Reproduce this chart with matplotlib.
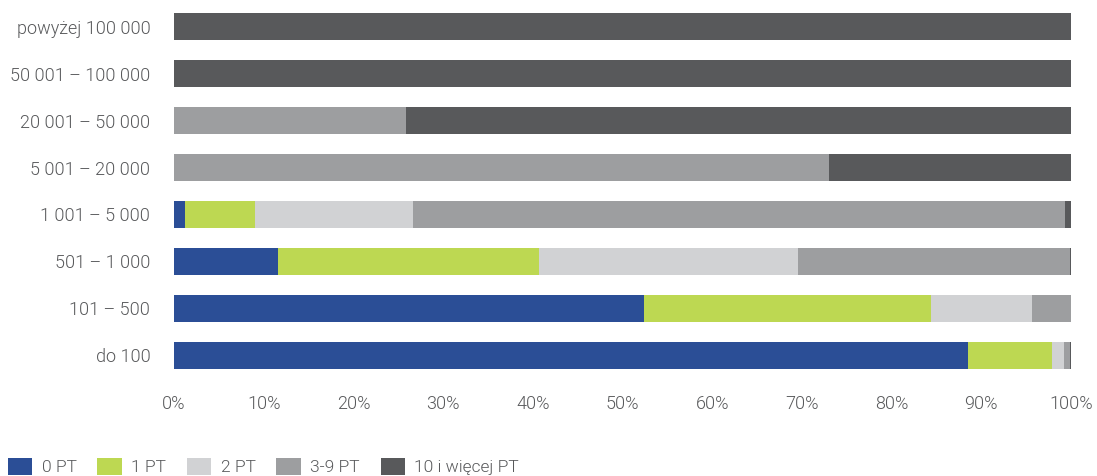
import matplotlib
matplotlib.use("Agg")
import matplotlib.pyplot as plt
from matplotlib.patches import Patch
import numpy as np

# ── Data ──────────────────────────────────────────────────────────────────────
categories = ["do 100", "101 – 500", "501 – 1 000", "1 001 – 5 000",
              "5 001 – 20 000", "20 001 – 50 000", "50 001 – 100 000",
              "powyżej 100 000"]
series_names = ["0 PT", "1 PT", "2 PT", "3-9 PT", "10 i więcej PT"]
pt0 = [88.5, 52.4, 11.6, 1.2, 0.0, 0.0, 0.0, 0.0]
pt1 = [9.4, 32.0, 29.1, 7.8, 0.0, 0.0, 0.0, 0.0]
pt2 = [1.3, 11.3, 28.9, 17.6, 0.0, 0.0, 0.0, 0.0]
pt3_9 = [0.7, 4.3, 30.3, 72.7, 73.0, 25.9, 0.0, 0.0]
pt10 = [0.1, 0.0, 0.1, 0.7, 27.0, 74.1, 100.0, 100.0]
x_ticks = [0, 10, 20, 30, 40, 50, 60, 70, 80, 90, 100]

colors = ["#2B4E96", "#BDD852", "#D1D2D4", "#9D9EA0", "#58595B"]
TEXT = "#58595B"
FS = 13

plt.rcParams["font.family"] = ["Roboto", "DejaVu Sans"]

fig = plt.figure(figsize=(10.97, 4.76), dpi=100)
ax = fig.add_axes([0.1586, 0.2048, 0.8177, 0.7878])

y = np.arange(len(categories))
left = np.zeros(len(categories))
for vals, col in zip([pt0, pt1, pt2, pt3_9, pt10], colors):
    ax.barh(y, vals, left=left, height=0.575, color=col, linewidth=0)
    left += np.array(vals)

ax.set_xlim(0, 100)
ax.set_ylim(-0.5, 7.5)
ax.set_yticks(y)
ax.set_yticklabels(categories, fontsize=FS, color=TEXT, fontweight=300)
ax.set_xticks(x_ticks)
ax.set_xticklabels([f"{t}%" for t in x_ticks], fontsize=FS, color=TEXT,
                   fontweight=300)
ax.tick_params(axis="both", length=0)
ax.tick_params(axis="y", pad=17)
ax.tick_params(axis="x", pad=12)
for s in ax.spines.values():
    s.set_visible(False)

handles = [Patch(facecolor=c, edgecolor="none", label=n)
           for c, n in zip(colors, series_names)]
leg = fig.legend(handles=handles, loc="upper left", ncol=5,
                 bbox_to_anchor=(0.007, 0.038), bbox_transform=fig.transFigure,
                 frameon=False, prop={"size": 12.5, "weight": 300},
                 handlelength=1.4, handleheight=1.1, handletextpad=0.55,
                 columnspacing=1.2, borderaxespad=0, borderpad=0)
for t in leg.get_texts():
    t.set_color(TEXT)

fig.savefig("out.png", dpi=100)
